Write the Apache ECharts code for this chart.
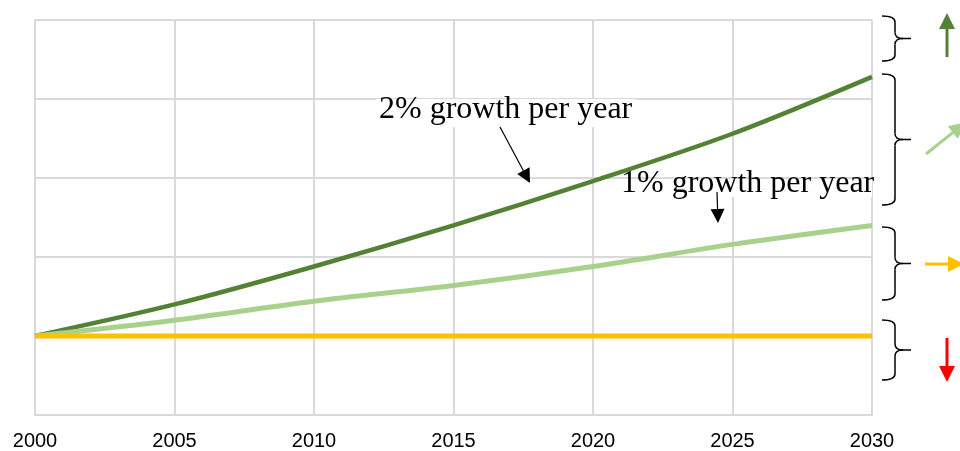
<!DOCTYPE html>
<html>
<head>
<meta charset="utf-8">
<script src="https://cdn.jsdelivr.net/npm/echarts@6/dist/echarts.min.js"></script>
<style>
  html, body { margin: 0; padding: 0; background: #fff; }
  #chart { width: 960px; height: 451px; }
</style>
</head>
<body>
<div id="chart"></div>
<script>
// Index of emissions relative to the year 2000 under three paths
const years = [2000, 2005, 2010, 2015, 2020, 2025, 2030];
const growth2pct = [1.00, 1.10, 1.22, 1.35, 1.49, 1.64, 1.82];
const growth1pct = [1.00, 1.05, 1.11, 1.16, 1.22, 1.29, 1.35];
const noGrowth = [1.00, 1.00, 1.00, 1.00, 1.00, 1.00, 1.00];
const xTicks = { min: 2000, max: 2030, step: 5 };
const yTicks = { min: 0.75, max: 2.0, step: 0.25 };

const pairs = (vals) => years.map((y, i) => [y, vals[i]]);

const GRID = '#d9d9d9';
const DARK = '#548235';
const LIGHT = '#a9d18e';
const GOLD = '#ffc000';
const RED = '#ff0000';

// straight arrow with a filled triangular head
function arrow(x1, y1, x2, y2, color, width, headLen, headHalf) {
  const dx = x2 - x1, dy = y2 - y1;
  const len = Math.sqrt(dx * dx + dy * dy);
  const ux = dx / len, uy = dy / len;
  const bx = x2 - ux * headLen, by = y2 - uy * headLen;
  const px = -uy * headHalf, py = ux * headHalf;
  return [
    { type: 'line', z: 100, shape: { x1: x1, y1: y1, x2: bx, y2: by },
      style: { stroke: color, lineWidth: width } },
    { type: 'polygon', z: 100,
      shape: { points: [[x2, y2], [bx + px, by + py], [bx - px, by - py]] },
      style: { fill: color } }
  ];
}

// right-facing curly brace between two heights
function brace(top, bottom, xl, xs, xt) {
  const mid = (top + bottom) / 2;
  const r = 6;
  const st = { stroke: '#000', lineWidth: 1.5, fill: null };
  const curve = (x1, y1, cx, cy, x2, y2) => ({ type: 'bezierCurve', z: 100,
    shape: { x1: x1, y1: y1, cpx1: cx, cpy1: cy, x2: x2, y2: y2 }, style: st });
  const seg = (x1, y1, x2, y2) => ({ type: 'line', z: 100,
    shape: { x1: x1, y1: y1, x2: x2, y2: y2 }, style: st });
  return [
    curve(xl, top, xs, top, xs, top + r),
    seg(xs, top + r, xs, mid - r),
    curve(xs, mid - r, xs, mid, xs + 8, mid),
    seg(xs + 8, mid, xt, mid),
    curve(xs + 8, mid, xs, mid, xs, mid + r),
    seg(xs, mid + r, xs, bottom - r),
    curve(xs, bottom - r, xs, bottom, xl, bottom)
  ];
}

const serif = '32px "Liberation Serif", "Times New Roman", serif';

const graphics = [].concat(
  // label boxes
  [{ type: 'rect', z: 99, shape: { x: 376, y: 99, width: 260, height: 28 }, style: { fill: '#fff' } },
   { type: 'text', z: 100, x: 379, y: 94,
     style: { text: '2% growth per year', font: serif, fill: '#000', verticalAlign: 'top' } },
   { type: 'rect', z: 99, shape: { x: 619, y: 179, width: 253, height: 18 }, style: { fill: '#fff' } },
   { type: 'text', z: 100, x: 621, y: 168,
     style: { text: '1% growth per year', font: serif, fill: '#000', verticalAlign: 'top' } }],
  arrow(500, 127, 530, 183, '#000', 1.2, 14, 7),
  arrow(717, 192, 718, 223, '#000', 1.2, 14, 7),
  // braces to the right of the plot
  brace(16, 61, 882, 895, 911),
  brace(74, 205, 882, 895, 911),
  brace(227, 300, 882, 895, 911),
  brace(320, 380, 882, 895, 911),
  // direction arrows
  arrow(947, 57, 947, 13, DARK, 3, 16, 8),
  arrow(926, 154, 966, 122, LIGHT, 3, 17, 8),
  arrow(925, 264, 964, 264, GOLD, 3, 16, 8),
  arrow(947, 338, 947, 382, RED, 3, 16, 8)
);

const chart = echarts.init(document.getElementById('chart'), null, { renderer: 'canvas' });
chart.setOption({
  animation: false,
  backgroundColor: '#fff',
  grid: { left: 35, right: 88, top: 20, bottom: 35, containLabel: false },
  xAxis: {
    type: 'value', min: xTicks.min, max: xTicks.max, interval: xTicks.step,
    axisLine: { show: true, lineStyle: { color: GRID, width: 2 } },
    axisTick: { show: false },
    splitLine: { show: true, lineStyle: { color: GRID, width: 2 } },
    axisLabel: { color: '#000', fontSize: 20, margin: 16,
      fontFamily: '"Liberation Sans", Arial, sans-serif',
      formatter: (v) => String(v) }
  },
  yAxis: {
    type: 'value', min: yTicks.min, max: yTicks.max, interval: yTicks.step,
    axisLine: { show: true, lineStyle: { color: GRID, width: 2 } },
    axisTick: { show: false },
    axisLabel: { show: false },
    splitLine: { show: true, lineStyle: { color: GRID, width: 2 } }
  },
  series: [
    { name: '2% growth per year', type: 'line', data: pairs(growth2pct), smooth: 0.3,
      showSymbol: false, lineStyle: { color: DARK, width: 4.5 }, z: 3 },
    { name: '1% growth per year', type: 'line', data: pairs(growth1pct), smooth: 0.3,
      showSymbol: false, lineStyle: { color: LIGHT, width: 5 }, z: 4 },
    { name: 'No growth', type: 'line', data: pairs(noGrowth),
      showSymbol: false, lineStyle: { color: GOLD, width: 5 }, z: 5 }
  ],
  graphic: graphics
});
</script>
</body>
</html>
